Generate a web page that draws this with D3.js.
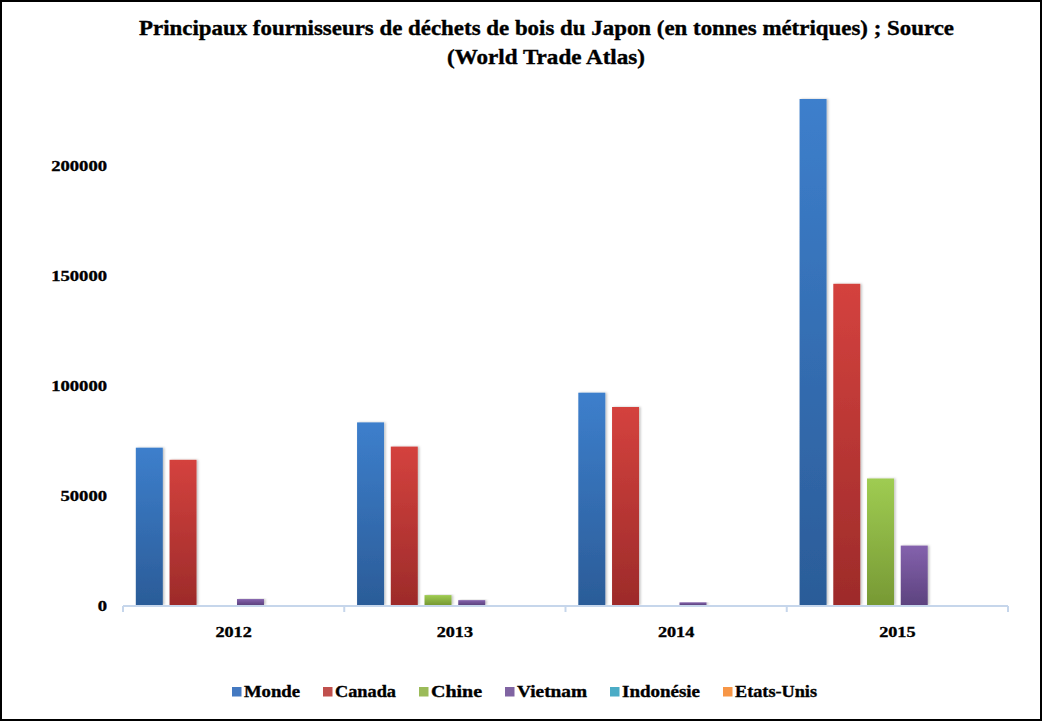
<!DOCTYPE html>
<html>
<head>
<meta charset="utf-8">
<script src="https://cdn.jsdelivr.net/npm/d3@7"></script>
<style>
  body { margin: 0; background: #fff; }
  svg text { font-family: "Liberation Serif", "Times New Roman", serif; font-weight: bold; fill: #000; stroke: #000; stroke-width: 0.35px; }
</style>
</head>
<body>
<div id="graphique"></div>
<script>
const annees = ["2012", "2013", "2014", "2015"];
const series = ["Monde", "Canada", "Chine", "Vietnam", "Indonésie", "Etats-Unis"];
const monde = [71500, 83000, 96500, 230000];
const canada = [66000, 72000, 90000, 146000];
const chine = [0, 4500, 0, 57500];
const vietnam = [2700, 2200, 1200, 27000];
const indonesie = [0, 0, 0, 0];
const etatsUnis = [0, 0, 0, 0];
const graduations = [0, 50000, 100000, 150000, 200000];

const valeurs = [monde, canada, chine, vietnam, indonesie, etatsUnis];
const couleurs = [
  { haut: "#3d7fcc", bas: "#2b5c98", legende: "#4479c1" },
  { haut: "#d4423e", bas: "#9d2b2a", legende: "#c0504d" },
  { haut: "#9fcc52", bas: "#779934", legende: "#9bbb59" },
  { haut: "#8462ad", bas: "#5d437f", legende: "#8064a2" },
  { haut: "#4fb3cf", bas: "#2f8098", legende: "#4bacc6" },
  { haut: "#f9984a", bas: "#cf7228", legende: "#f79646" }
];

const largeur = 1042, hauteur = 721;
const rand = { links: 123, rechts: 1008, boven: 99, beneden: 605 };

const svg = d3.select("#graphique").append("svg")
  .attr("width", largeur).attr("height", hauteur);

const defs = svg.append("defs");
couleurs.forEach((c, i) => {
  const g = defs.append("linearGradient").attr("id", "grad" + i)
    .attr("x1", 0).attr("y1", 0).attr("x2", 0).attr("y2", 1);
  g.append("stop").attr("offset", "0%").attr("stop-color", c.haut);
  g.append("stop").attr("offset", "100%").attr("stop-color", c.bas);
});
const ombre = defs.append("filter").attr("id", "ombre")
  .attr("x", "-30%").attr("y", "-5%").attr("width", "160%").attr("height", "110%");
ombre.append("feDropShadow").attr("dx", 1.5).attr("dy", 0).attr("stdDeviation", 1.2)
  .attr("flood-color", "#000").attr("flood-opacity", 0.25);

svg.append("rect").attr("x", 1).attr("y", 1).attr("width", largeur - 2).attr("height", hauteur - 2)
  .attr("fill", "#fff").attr("stroke", "#000").attr("stroke-width", 2);

// texte étiré à une largeur donnée, comme dans l'original
function largeurFixe(sel, f) {
  sel.attr("textLength", f).attr("lengthAdjust", "spacingAndGlyphs");
}

// titre
svg.append("text").attr("x", 546.5).attr("y", 35).attr("text-anchor", "middle")
  .attr("font-size", 20)
  .text("Principaux fournisseurs de déchets de bois du Japon (en tonnes métriques) ; Source")
  .call(largeurFixe, 815);
svg.append("text").attr("x", 546).attr("y", 64).attr("text-anchor", "middle")
  .attr("font-size", 20)
  .text("(World Trade Atlas)")
  .call(largeurFixe, 198);

const x0 = d3.scaleBand().domain(annees).range([rand.links, rand.rechts]).padding(0);
const x1 = d3.scaleBand().domain(series).range([0, x0.bandwidth()])
  .paddingInner(0.2).paddingOuter(0.38);
const y = d3.scaleLinear().domain([0, 230000]).range([rand.beneden, rand.boven]);

// barres
const groupes = svg.append("g").selectAll("g").data(annees).enter().append("g")
  .attr("transform", d => `translate(${x0(d)},0)`);
groupes.selectAll("rect")
  .data((d, j) => series.map((s, i) => ({ serie: s, i: i, v: valeurs[i][j] })))
  .enter().append("rect")
  .filter(d => d.v > 0)
  .attr("x", d => x1(d.serie))
  .attr("y", d => y(d.v))
  .attr("width", x1.bandwidth())
  .attr("height", d => y(0) - y(d.v))
  .attr("fill", d => `url(#grad${d.i})`)
  .attr("filter", "url(#ombre)");

// axe x
const axeX = svg.append("g").attr("transform", `translate(0,${rand.beneden + 1})`)
  .call(d3.axisBottom(x0).tickSize(0).tickFormat(""));
axeX.select(".domain").attr("stroke", "#c6d6eb").attr("stroke-width", 2).attr("d", `M${rand.links},0H${rand.rechts}`);
axeX.selectAll(".bord").data(d3.range(annees.length + 1)).enter().append("line")
  .attr("class", "bord")
  .attr("x1", i => rand.links + i * x0.step()).attr("x2", i => rand.links + i * x0.step())
  .attr("y1", 0).attr("y2", 6)
  .attr("stroke", "#c6d6eb").attr("stroke-width", 2);
svg.append("g").selectAll("text").data(annees).enter().append("text")
  .attr("x", d => x0(d) + x0.bandwidth() / 2).attr("y", 637)
  .attr("text-anchor", "middle").attr("font-size", 15)
  .text(d => d)
  .each(function (d) { d3.select(this).call(largeurFixe, d.length * 9.1); });

// axe y : étiquettes placées avec l'échelle y
svg.append("g").selectAll("text").data(graduations).enter().append("text")
  .attr("x", 107).attr("y", d => y(d) + 5.5)
  .attr("text-anchor", "end").attr("font-size", 15)
  .text(d => String(d))
  .each(function (d) { d3.select(this).call(largeurFixe, String(d).length * 9.3); });

// légende
const legende = svg.append("g");
const items = legende.selectAll("g").data(series).enter().append("g");
items.append("rect").attr("width", 9.5).attr("height", 9.5).attr("y", 687)
  .attr("fill", (d, i) => couleurs[i].legende);
const largeursTexte = [56, 61, 51, 70, 78, 82];
items.append("text").attr("x", 12).attr("y", 697).attr("font-size", 16)
  .text(d => d)
  .each(function (d, i) { d3.select(this).call(largeurFixe, largeursTexte[i]); });
const largeurs = largeursTexte.map(w => 12 + w);
const total = d3.sum(largeurs) + 23 * (series.length - 1);
let pos = 524.5 - total / 2;
items.attr("transform", (d, i) => {
  const t = `translate(${pos},0)`;
  pos += largeurs[i] + 23;
  return t;
});
</script>
</body>
</html>
